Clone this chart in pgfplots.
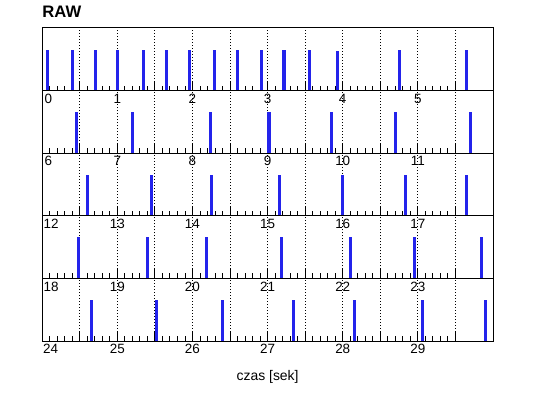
\documentclass[border=0pt]{standalone}
\usepackage{pgfplots}
\pgfplotsset{compat=1.18}
\usepackage{fontspec}
\setmainfont{Liberation Sans}
\definecolor{spike}{RGB}{35,35,235}
\pgfplotsset{
  panel/.style={
    scale only axis,
    width=450.8bp, height=62.6bp,
    anchor=north west,
    ymin=0, ymax=1, ytick=\empty,
    axis line style={line width=1bp},
    xtick pos=bottom, tick align=inside,
    minor x tick num=4,
    major tick length=9bp, minor tick length=5bp,
    every tick/.style={black, line width=0.9bp},
    xmajorgrids,
    major grid style={black, line width=0.9bp, dash pattern=on 0.9bp off 2.1bp},
    /pgf/number format/assume math mode=true,
    tick label style={font=\fontsize{13.5}{13.5}\selectfont, inner sep=3.2bp},
    clip=false,
  },
  spk/.style={ycomb, no marks, draw=spike, line width=3.3bp},
}
\begin{document}
\begin{tikzpicture}
\path[use as bounding box] (0,0) rectangle (538bp,398bp);
% panel 1: 0-6
\begin{axis}[panel, at={(42.2bp,370bp)}, xmin=0, xmax=6,
  xtick={0,0.5,...,5.5},
  xticklabels={\rlap{\hspace{2.5bp}0},,1,,2,,3,,4,,5,},
  title={RAW},
  title style={at={(0,1)}, anchor=south west, inner sep=0pt, yshift=4bp,
    font=\fontsize{16.7}{17}\selectfont\bfseries}]
\addplot[spk] coordinates {(0.068,0.655) (0.40,0.655) (0.707,0.655) (1.0,0.655) (1.345,0.655) (1.65,0.655) (1.957,0.655) (2.29,0.655) (2.596,0.655) (2.915,0.655) (3.22,0.655) (3.554,0.655) (3.927,0.64) (4.752,0.655) (5.644,0.655)};
\end{axis}
% panel 2: 6-12
\begin{axis}[panel, at={(42.2bp,307.4bp)}, xmin=6, xmax=12,
  xtick={6,6.5,...,11.5},
  xticklabels={\rlap{\hspace{2.5bp}6},,7,,8,,9,,10,,11,}]
\addplot[spk] coordinates {(6.454,0.655) (7.199,0.655) (8.237,0.655) (9.018,0.655) (9.847,0.655) (10.699,0.655) (11.697,0.655)};
\end{axis}
% panel 3: 12-18
\begin{axis}[panel, at={(42.2bp,244.8bp)}, xmin=12, xmax=18,
  xtick={12,12.5,...,17.5},
  xticklabels={\rlap{\hspace{1.5bp}12},,13,,14,,15,,16,,17,}]
\addplot[spk] coordinates {(12.60,0.655) (13.452,0.655) (14.25,0.655) (15.155,0.655) (15.993,0.655) (16.832,0.655) (17.644,0.655)};
\end{axis}
% panel 4: 18-24
\begin{axis}[panel, at={(42.2bp,182.2bp)}, xmin=18, xmax=24,
  xtick={18,18.5,...,23.5},
  xticklabels={\rlap{\hspace{1.5bp}18},,19,,20,,21,,22,,23,}]
\addplot[spk] coordinates {(18.486,0.655) (19.399,0.655) (20.184,0.655) (21.182,0.655) (22.10,0.655) (22.952,0.655) (23.843,0.655)};
\end{axis}
% panel 5: 24-30
\begin{axis}[panel, at={(42.2bp,119.6bp)}, xmin=24, xmax=30,
  xtick={24,24.5,...,29.5},
  xticklabels={\rlap{\hspace{1bp}24},,25,,26,,27,,28,,29,},
  xlabel={czas [sek]},
  xlabel style={font=\fontsize{14}{14}\selectfont, inner sep=0pt, at={(0.5,0)}, anchor=base, yshift=-39bp}]
\addplot[spk] coordinates {(24.653,0.655) (25.518,0.655) (26.397,0.655) (27.341,0.655) (28.153,0.655) (29.058,0.655) (29.896,0.655)};
\end{axis}
\end{tikzpicture}
\end{document}
